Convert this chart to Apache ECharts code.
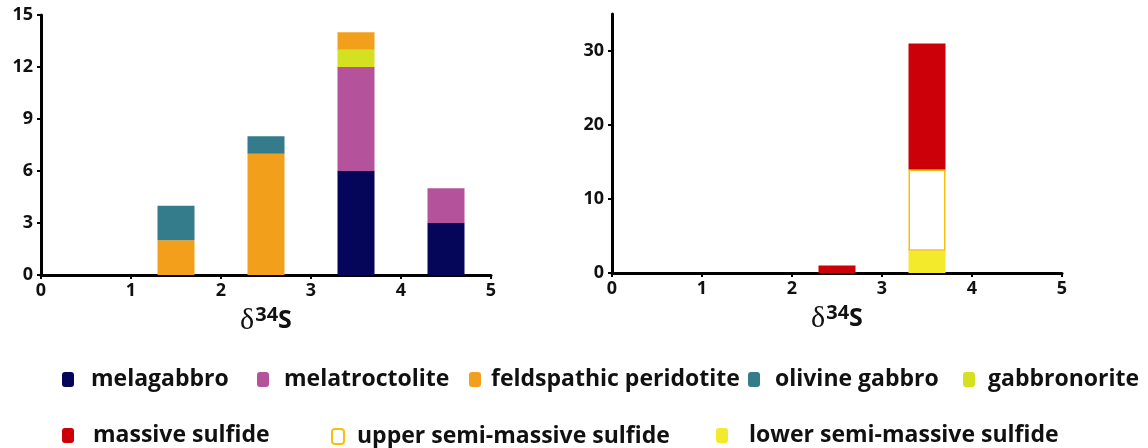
<!DOCTYPE html>
<html>
<head>
<meta charset="utf-8">
<script src="https://cdn.jsdelivr.net/npm/echarts@6/dist/echarts.min.js"></script>
<style>
  html, body { margin: 0; padding: 0; background: #fff; }
  #chart { width: 1148px; height: 448px; }
</style>
</head>
<body>
<div id="chart"></div>
<script>
// d34S bins (one category per unit)
var bins = ['0-1', '1-2', '2-3', '3-4', '4-5'];

// left panel: counts per rock type
var melagabbro = [0, 0, 0, 6, 3];
var melatroctolite = [0, 0, 0, 6, 2];
var gabbronorite = [0, 0, 0, 1, 0];
var feldspathic = [0, 2, 7, 1, 0];
var olivineGabbro = [0, 2, 1, 0, 0];

// right panel: counts per sulfide type
var lowerSemiMassive = [0, 0, 0, 3, 0];
var upperSemiMassive = [0, 0, 0, 11, 0];
var massiveSulfide = [0, 0, 1, 17, 0];

var leftYTicks = [0, 3, 6, 9, 12, 15];
var rightYTicks = [0, 10, 20, 30];

var FONT = "'Open Sans', sans-serif";

// hide empty segments (so the outlined series leaves no line on the axis)
function cells(vals) {
    return vals.map(function (v) {
        return v === 0 ? { value: 0, itemStyle: { opacity: 0 } } : v;
    });
}

function barSeries(name, vals, grid, stack, itemStyle) {
    return {
        name: name,
        type: 'bar',
        xAxisIndex: grid * 2,
        yAxisIndex: grid,
        stack: stack,
        barWidth: 37,
        data: cells(vals),
        itemStyle: itemStyle,
        emphasis: { disabled: true }
    };
}

var axisLine = { show: true, onZero: false, lineStyle: { color: '#000', width: 3 } };
var axisTick = { show: true, length: 4, lineStyle: { color: '#000', width: 2 } };
var labelStyle = { color: '#111', fontSize: 18, fontWeight: 'bold', fontFamily: FONT };

// hidden category axis that carries the bars
function binAxis(grid) {
    return {
        type: 'category', gridIndex: grid, data: bins,
        axisLine: { show: false }, axisTick: { show: false },
        axisLabel: { show: false }, splitLine: { show: false }
    };
}

// visible 0..5 scale
function scaleAxis(grid) {
    return {
        type: 'value', gridIndex: grid, position: 'bottom', min: 0, max: 5, interval: 1,
        axisLine: axisLine, axisTick: axisTick,
        axisLabel: Object.assign({ margin: 7 }, labelStyle),
        splitLine: { show: false },
        name: '{d|δ}{n|34}{s|S}',
        nameLocation: 'middle',
        nameGap: 29,
        nameTextStyle: {
            rich: {
                d: { fontFamily: "'Liberation Serif', serif", fontSize: 30, color: '#111' },
                n: { fontFamily: FONT, fontSize: 20, fontWeight: 'bold', color: '#111', padding: [0, 0, 12, 1] },
                s: { fontFamily: FONT, fontSize: 25, fontWeight: 'bold', color: '#111' }
            }
        }
    };
}

function yAxis(grid, max, ticks) {
    return {
        type: 'value', gridIndex: grid, min: 0, max: max,
        axisLine: axisLine,
        axisTick: Object.assign({ customValues: ticks }, axisTick),
        axisLabel: Object.assign({ margin: 8, customValues: ticks }, labelStyle),
        splitLine: { show: false }
    };
}

// legend layout: [name, markerLeft, markerTop, textGap]
var legendLayout = [
    ['melagabbro', 62, 368, 12],
    ['melatroctolite', 257, 368, 10],
    ['feldspathic peridotite', 469, 368, 5],
    ['olivine gabbro', 748, 368, 10],
    ['gabbronorite', 963, 368, 8],
    ['massive sulfide', 62, 424, 14],
    ['upper semi-massive sulfide', 331, 425, 8],
    ['lower semi-massive sulfide', 716, 424, 16]
];

var legends = legendLayout.map(function (l) {
    return {
        data: [l[0]], left: l[1], top: l[2],
        itemWidth: 12, itemHeight: 15, padding: 0,
        selectedMode: false,
        textStyle: {
            color: '#111', fontSize: 23, fontWeight: 'bold', fontFamily: FONT,
            padding: [0, 0, 0, l[3]]
        }
    };
});

var chart = echarts.init(document.getElementById('chart'));
chart.setOption({
    backgroundColor: '#fff',
    animation: false,
    grid: [
        { left: 41, right: 657, top: 15, bottom: 173 },
        { left: 612, right: 86, top: 14, bottom: 175 }
    ],
    xAxis: [binAxis(0), scaleAxis(0), binAxis(1), scaleAxis(1)],
    yAxis: [yAxis(0, 15, leftYTicks), yAxis(1, 35, rightYTicks)],
    legend: legends,
    series: [
        barSeries('melagabbro', melagabbro, 0, 'rock', { color: '#05055a' }),
        barSeries('melatroctolite', melatroctolite, 0, 'rock', { color: '#b5529c' }),
        barSeries('gabbronorite', gabbronorite, 0, 'rock', { color: '#d5e021' }),
        barSeries('feldspathic peridotite', feldspathic, 0, 'rock', { color: '#f2a01b' }),
        barSeries('olivine gabbro', olivineGabbro, 0, 'rock', { color: '#347c8c' }),
        barSeries('lower semi-massive sulfide', lowerSemiMassive, 1, 'sulf', { color: '#f2ea2a' }),
        barSeries('upper semi-massive sulfide', upperSemiMassive, 1, 'sulf',
            { color: '#ffffff', borderColor: '#f3c20e', borderWidth: 1.5 }),
        barSeries('massive sulfide', massiveSulfide, 1, 'sulf', { color: '#cc0009' })
    ]
});
</script>
</body>
</html>
